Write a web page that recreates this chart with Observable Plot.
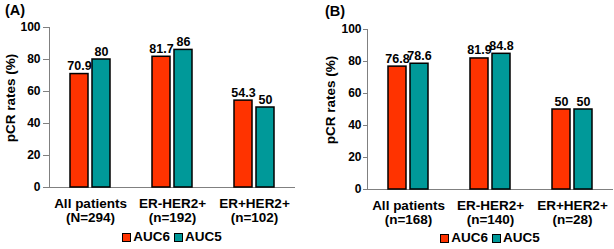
<!DOCTYPE html>
<html><head><meta charset="utf-8">
<script src="https://cdn.jsdelivr.net/npm/d3@7"></script>
<script src="https://cdn.jsdelivr.net/npm/@observablehq/plot@0.6"></script>
<style>
body{margin:0;background:#fff;font-family:"Liberation Sans",Arial,sans-serif;}
#wrap{position:relative;width:614px;height:249px;overflow:hidden;background:#fff}
.panel{position:absolute;top:0;width:307px;height:249px}
.panel svg{position:absolute;left:0;top:0}
.plabel{position:absolute;font-weight:bold;font-size:14.5px;line-height:1}
.ylab{position:absolute;font-weight:bold;font-size:13.5px;line-height:1;white-space:nowrap;transform:translate(-50%,-50%) rotate(-90deg)}
.legend{position:absolute;display:flex;justify-content:center;align-items:center;font-weight:bold;font-size:13.5px;line-height:14px;height:14px}
.item{display:flex;align-items:center;margin:0 2px}
.sw{display:inline-block;width:7px;height:7px;border:1px solid #000;margin-right:2px}
</style>
</head><body>
<div id="wrap"></div>
<script>
const series = ["AUC6", "AUC5"];
const colors = ["#ff3300", "#009999"];

const categoriesA = ["All patients\n(N=294)", "ER-HER2+\n(n=192)", "ER+HER2+\n(n=102)"];
const auc6A = [70.9, 81.7, 54.3];
const auc5A = [80, 86, 50];

const categoriesB = ["All patients\n(n=168)", "ER-HER2+\n(n=140)", "ER+HER2+\n(n=28)"];
const auc6B = [76.8, 81.9, 50];
const auc5B = [78.6, 84.8, 50];

const yTicks = [0, 20, 40, 60, 80, 100];
const yLabel = "pCR rates (%)";

function makePlot(cats, a6, a5, o) {
  const data = cats.flatMap((c, i) => [
    {cat: c, series: series[0], value: a6[i]},
    {cat: c, series: series[1], value: a5[i]}
  ]);
  return Plot.plot({
    width: 307, height: o.height,
    marginLeft: o.ml, marginRight: o.mr, marginTop: o.mt, marginBottom: o.mb,
    style: {fontFamily: '"Liberation Sans", Arial, sans-serif', fontWeight: "bold", fontSize: "12px", background: "transparent", color: "#000", overflow: "visible"},
    fx: {domain: cats, padding: 0, label: null},
    x: {domain: series, paddingInner: 0.17, paddingOuter: 0.87, axis: null},
    y: {domain: [0, 100], label: null, axis: null},
    color: {domain: series, range: colors},
    marks: [
      Plot.ruleY([0], {stroke: "#808080"}),
      Plot.frame({anchor: "left", facetAnchor: "left", stroke: "#808080"}),
      Plot.axisY({ticks: yTicks, tickSize: o.ts, tickPadding: o.tp, stroke: "#808080", fill: "#000", label: null, fontSize: 12, fontWeight: "bold"}),
      Plot.barY(data, {fx: "cat", x: "series", y: "value", fill: "series", stroke: "#000", strokeWidth: 1.5}),
      Plot.text(data, {fx: "cat", x: "series", y: "value", text: d => String(d.value), lineAnchor: "bottom", dy: -4, fontSize: 12.5, fontWeight: "bold", fill: "#000"}),
      Plot.axisFx({anchor: "bottom", tickSize: 0, tickPadding: 11, fontSize: 13.5, lineHeight: 1, label: null, fontWeight: "bold", fill: "#000"})
    ]
  });
}

function makePanel(left, name, cats, a6, a5, o) {
  const p = document.createElement("div");
  p.className = "panel";
  p.style.left = left + "px";
  p.appendChild(makePlot(cats, a6, a5, o));
  const lab = document.createElement("div");
  lab.className = "plabel";
  lab.textContent = name;
  lab.style.left = o.plx + "px";
  lab.style.top = o.ply + "px";
  p.appendChild(lab);
  const yl = document.createElement("div");
  yl.className = "ylab";
  yl.textContent = yLabel;
  yl.style.left = o.ylx + "px";
  yl.style.top = o.yly + "px";
  p.appendChild(yl);
  const lg = document.createElement("div");
  lg.className = "legend";
  lg.style.left = o.ml + "px";
  lg.style.width = (307 - o.ml - o.mr) + "px";
  lg.style.top = o.lgy + "px";
  series.forEach((s, i) => {
    const it = document.createElement("span");
    it.className = "item";
    const sw = document.createElement("span");
    sw.className = "sw";
    sw.style.background = colors[i];
    it.appendChild(sw);
    it.appendChild(document.createTextNode(s));
    lg.appendChild(it);
  });
  p.appendChild(lg);
  document.getElementById("wrap").appendChild(p);
}

makePanel(0, "(A)", categoriesA, auc6A, auc5A,
  {height: 225, ml: 49, mr: 12, mt: 27, mb: 38, ts: 6, tp: 3, plx: 5, ply: 3, ylx: 11, yly: 98, lgy: 230});
makePanel(307, "(B)", categoriesB, auc6B, auc5B,
  {height: 227, ml: 59, mr: 0, mt: 29, mb: 38, ts: 4, tp: 2, plx: 18, ply: 4, ylx: 24, yly: 100, lgy: 231});
</script>
</body></html>
